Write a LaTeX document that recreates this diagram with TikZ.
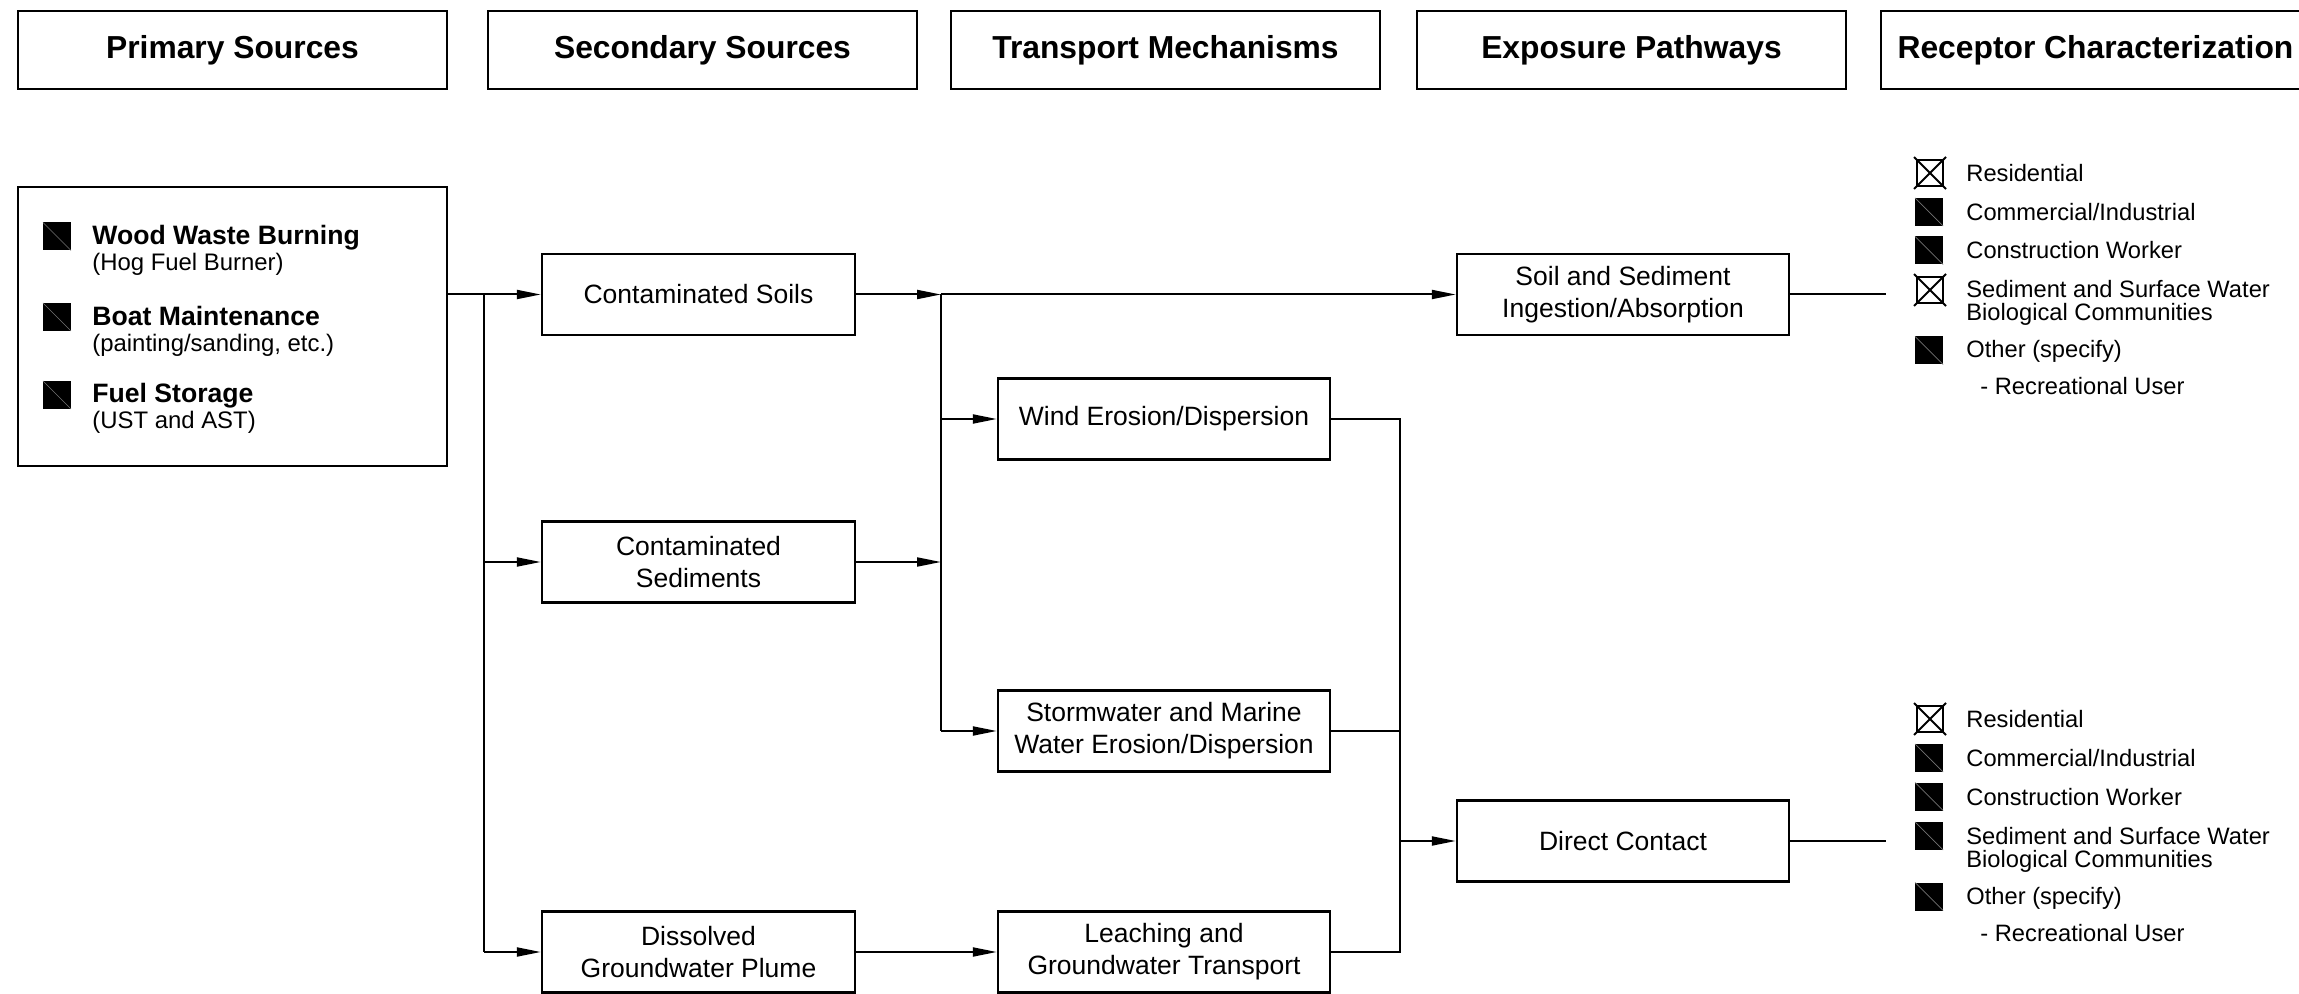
\documentclass[tikz,border=0pt]{standalone}
\usepackage{fontspec}
\setmainfont{Liberation Sans}
\usetikzlibrary{arrows.meta,positioning,calc}
\tikzset{
  hdr/.style={draw, line width=1.2pt, minimum width=214.5pt, minimum height=39pt, inner sep=0pt, font=\fontsize{15.9}{19}\selectfont\bfseries},
  sbox/.style={draw, line width=1.2pt, minimum width=156.5pt, minimum height=40.5pt, inner sep=0pt, align=center, font=\fontsize{13.25}{16}\selectfont},
  tbox/.style={sbox, minimum width=166pt},
  conn/.style={line width=1pt},
  arr/.style={line width=1pt, -{Triangle[length=12pt,width=4.5pt]}},
  itm/.style={anchor=base west, inner sep=0pt, font=\fontsize{13.3}{16}\selectfont\bfseries},
  sub/.style={anchor=base west, inner sep=0pt, font=\fontsize{11.95}{14}\selectfont},
  rec/.style={anchor=base west, inner sep=0pt, font=\fontsize{11.85}{11.5}\selectfont},
}
\newcommand{\cbfill}[2]{%
  \fill[black] ({#1-14},{#2-14}) rectangle ({#1+14},{#2+14});
  \draw[black!55, line width=0.35pt] ({#1-14},{#2-14}) -- ({#1+14},{#2+14});}
\newcommand{\cbx}[2]{%
  \draw[line width=0.9pt] ({#1-13},{#2-13}) rectangle ({#1+13},{#2+13});
  \draw[line width=0.9pt] ({#1-16},{#2-16}) -- ({#1+16},{#2+16});
  \draw[line width=0.9pt] ({#1-16},{#2+16}) -- ({#1+16},{#2-16});}
\begin{document}
\begin{tikzpicture}[x=0.5pt, y=-0.5pt]
\useasboundingbox (0,0) rectangle (2299,994);
\fill[white] (0,0) rectangle (2299,994);

% headers
\node[hdr] (h1) at (232.5,50) {Primary Sources};
\node[hdr] (h2) at (702.5,50) {Secondary Sources};
\node[hdr] (h3) at (1165.5,50) {Transport Mechanisms};
\node[hdr] (h4) at (1631.5,50) {Exposure Pathways};
\node[hdr] (h5) at (2095.5,50) {Receptor Characterization};

% primary box
\node[draw, line width=1.2pt, minimum width=214.5pt, minimum height=139.5pt, inner sep=0pt] (prim) at (232.5,326.5) {};
\cbfill{57}{236.5}
\cbfill{57}{317}
\cbfill{57}{395}
\node[itm] (p1) at (92,245) {Wood Waste Burning};
\node[sub] (p1s) at (92,271) {(Hog Fuel Burner)};
\node[itm] (p2) at (92,326) {Boat Maintenance};
\node[sub] (p2s) at (92,352) {(painting/sanding, etc.)};
\node[itm] (p3) at (92,403) {Fuel Storage};
\node[sub] (p3s) at (92,429) {(UST and AST)};

% secondary
\node[sbox] (soil) at (698.5,294.5) {Contaminated Soils};
\node[sbox] (sed) at (698.5,562) {Contaminated\\Sediments};
\node[sbox] (diss) at (698.5,952) {Dissolved\\Groundwater Plume};

% transport
\node[tbox] (wind) at (1164,419) {Wind Erosion/Dispersion};
\node[tbox] (storm) at (1164,731) {Stormwater and Marine\\Water Erosion/Dispersion};
\node[tbox] (leach) at (1164,952) {Leaching and\\Groundwater Transport};

% exposure
\node[tbox] (ingest) at (1623,294.5) {Soil and Sediment\\Ingestion/Absorption};
\node[tbox] (direct) at (1623,841) {Direct Contact};

% junction coordinates
\coordinate (j1) at (484,294.5);
\coordinate (j2) at (941,294.5);
\coordinate (j3) at (1400,419);
\coordinate (e1) at (1886,294.5);
\coordinate (e2) at (1886,841);

% connectors
\draw[arr] (prim.east |- soil.west) -- (soil.west);
\draw[conn] (j1) -- (j1 |- diss.west);
\draw[arr] (j1 |- sed.west) -- (sed.west);
\draw[arr] (j1 |- diss.west) -- (diss.west);

\draw[arr] (soil.east) -- (j2);
\draw[arr] (sed.east) -- (j2 |- sed.east);
\draw[conn] (j2) -- (j2 |- storm.west);
\draw[arr] (j2) -- (ingest.west);
\draw[arr] (j2 |- wind.west) -- (wind.west);
\draw[arr] (j2 |- storm.west) -- (storm.west);

\draw[arr] (diss.east) -- (leach.west);

\draw[conn] (wind.east) -- (j3) -- (j3 |- leach.east) -- (leach.east);
\draw[conn] (storm.east) -- (j3 |- storm.east);
\draw[arr] (j3 |- direct.west) -- (direct.west);

\draw[conn] (ingest.east) -- (e1);
\draw[conn] (direct.east) -- (e2);

% receptors group 1
\cbx{1930}{173}
\cbfill{1929}{212}
\cbfill{1929}{250.5}
\cbx{1930}{290}
\cbfill{1929}{350.5}
\node[rec] (r1a) at (1966,181.5) {Residential};
\node[rec] (r1b) at (1966,220.5) {Commercial/Industrial};
\node[rec] (r1c) at (1966,259) {Construction Worker};
\node[rec] (r1d) at (1966,298) {Sediment and Surface Water};
\node[rec] (r1d2) at (1966,321) {Biological Communities};
\node[rec] (r1e) at (1966,358) {Other (specify)};
\node[rec] (r1f) at (1980,395) {- Recreational User};

% receptors group 2
\cbx{1930}{719}
\cbfill{1929}{758}
\cbfill{1929}{796.5}
\cbfill{1929}{836}
\cbfill{1929}{896.5}
\node[rec] (r2a) at (1966,727.5) {Residential};
\node[rec] (r2b) at (1966,766.5) {Commercial/Industrial};
\node[rec] (r2c) at (1966,805) {Construction Worker};
\node[rec] (r2d) at (1966,844) {Sediment and Surface Water};
\node[rec] (r2d2) at (1966,867) {Biological Communities};
\node[rec] (r2e) at (1966,904) {Other (specify)};
\node[rec] (r2f) at (1980,941) {- Recreational User};
\end{tikzpicture}
\end{document}
